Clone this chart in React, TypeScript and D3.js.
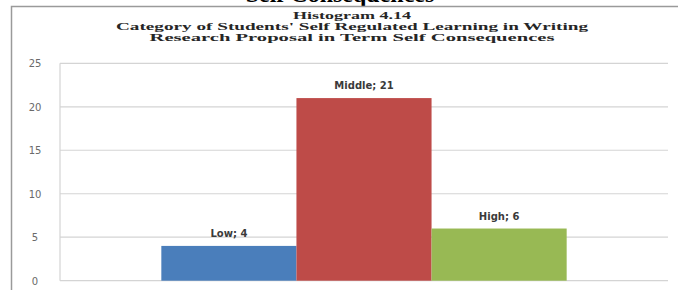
import { useRef, useEffect } from 'react';
import * as d3 from 'd3';

const categories = ['Low', 'Middle', 'High'];
const values = [4, 21, 6];
const colors = ['#4a7ebb', '#be4b48', '#98b954'];
const yTicks = [0, 5, 10, 15, 20, 25];
const titleLines = [
  'Histogram 4.14',
  "Category of Students' Self Regulated Learning in Writing",
  'Research Proposal in Term Self Consequences',
];
const titleWidths = [118, 472, 405];

const W = 678;
const H = 290;

const App = () => {
  const svgRef = useRef<SVGSVGElement | null>(null);

  useEffect(() => {
    const svg = d3.select(svgRef.current);
    svg.selectAll('*').remove();

    const left = 60;
    const right = 668;
    const top = 63.3;
    const bottom = 280.7;

    // cut-off heading from the page above the chart
    svg
      .append('text')
      .attr('x', 340)
      .attr('y', 2)
      .attr('text-anchor', 'middle')
      .attr('font-family', 'Liberation Serif')
      .attr('font-weight', 'bold')
      .attr('font-size', 24)
      .attr('fill', '#000')
      .text('Self Consequences');

    // chart frame
    svg
      .append('path')
      .attr('d', `M11.5,${H} V6.5 H${W}`)
      .attr('fill', 'none')
      .attr('stroke', '#9a9a9a')
      .attr('stroke-width', 1.5);

    svg
      .selectAll('.title')
      .data(titleLines)
      .join('text')
      .attr('class', 'title')
      .attr('x', 352)
      .attr('y', (_d, i) => 19 + i * 11)
      .attr('text-anchor', 'middle')
      .attr('font-family', 'Liberation Serif')
      .attr('font-weight', 'bold')
      .attr('font-size', 11)
      .attr('fill', '#262626')
      .attr('textLength', (_d, i) => titleWidths[i])
      .attr('lengthAdjust', 'spacingAndGlyphs')
      .text(d => d);

    const y = d3.scaleLinear().domain([0, 25]).range([bottom, top]);

    // single category, three series, gap width 150%
    const groupW = ((right - left) * 3) / 4.5;
    const x = d3
      .scaleBand<string>()
      .domain(categories)
      .range([(left + right) / 2 - groupW / 2, (left + right) / 2 + groupW / 2])
      .padding(0);

    svg
      .selectAll('.grid')
      .data(yTicks)
      .join('line')
      .attr('class', 'grid')
      .attr('x1', left)
      .attr('x2', right)
      .attr('y1', d => y(d))
      .attr('y2', d => y(d))
      .attr('stroke', '#d4d4d4')
      .attr('stroke-width', 1.2);

    svg
      .append('line')
      .attr('x1', left)
      .attr('x2', left)
      .attr('y1', top)
      .attr('y2', bottom)
      .attr('stroke', '#d4d4d4')
      .attr('stroke-width', 1.2);

    svg
      .selectAll('.ylab')
      .data(yTicks)
      .join('text')
      .attr('class', 'ylab')
      .attr('x', 35)
      .attr('y', d => y(d) + 4)
      .attr('text-anchor', 'middle')
      .attr('font-family', 'DejaVu Sans')
      .attr('font-size', 10)
      .attr('fill', '#6a6a6a')
      .text(d => d);

    svg
      .selectAll('.bar')
      .data(values)
      .join('rect')
      .attr('class', 'bar')
      .attr('x', (_d, i) => x(categories[i]) as number)
      .attr('width', x.bandwidth())
      .attr('y', d => y(d))
      .attr('height', d => bottom - y(d))
      .attr('fill', (_d, i) => colors[i]);

    svg
      .selectAll('.lab')
      .data(values)
      .join('text')
      .attr('class', 'lab')
      .attr('x', (_d, i) => (x(categories[i]) as number) + x.bandwidth() / 2)
      .attr('y', d => y(d) - 9)
      .attr('text-anchor', 'middle')
      .attr('font-family', 'DejaVu Sans')
      .attr('font-weight', 'bold')
      .attr('font-size', 10)
      .attr('fill', '#3a3a3a')
      .text((d, i) => `${categories[i]}; ${d}`);
  }, []);

  return (
    <svg
      ref={svgRef}
      width={W}
      height={H}
      style={{ position: 'absolute', left: 0, top: 0, background: '#fff' }}
    />
  );
};

export default App;
